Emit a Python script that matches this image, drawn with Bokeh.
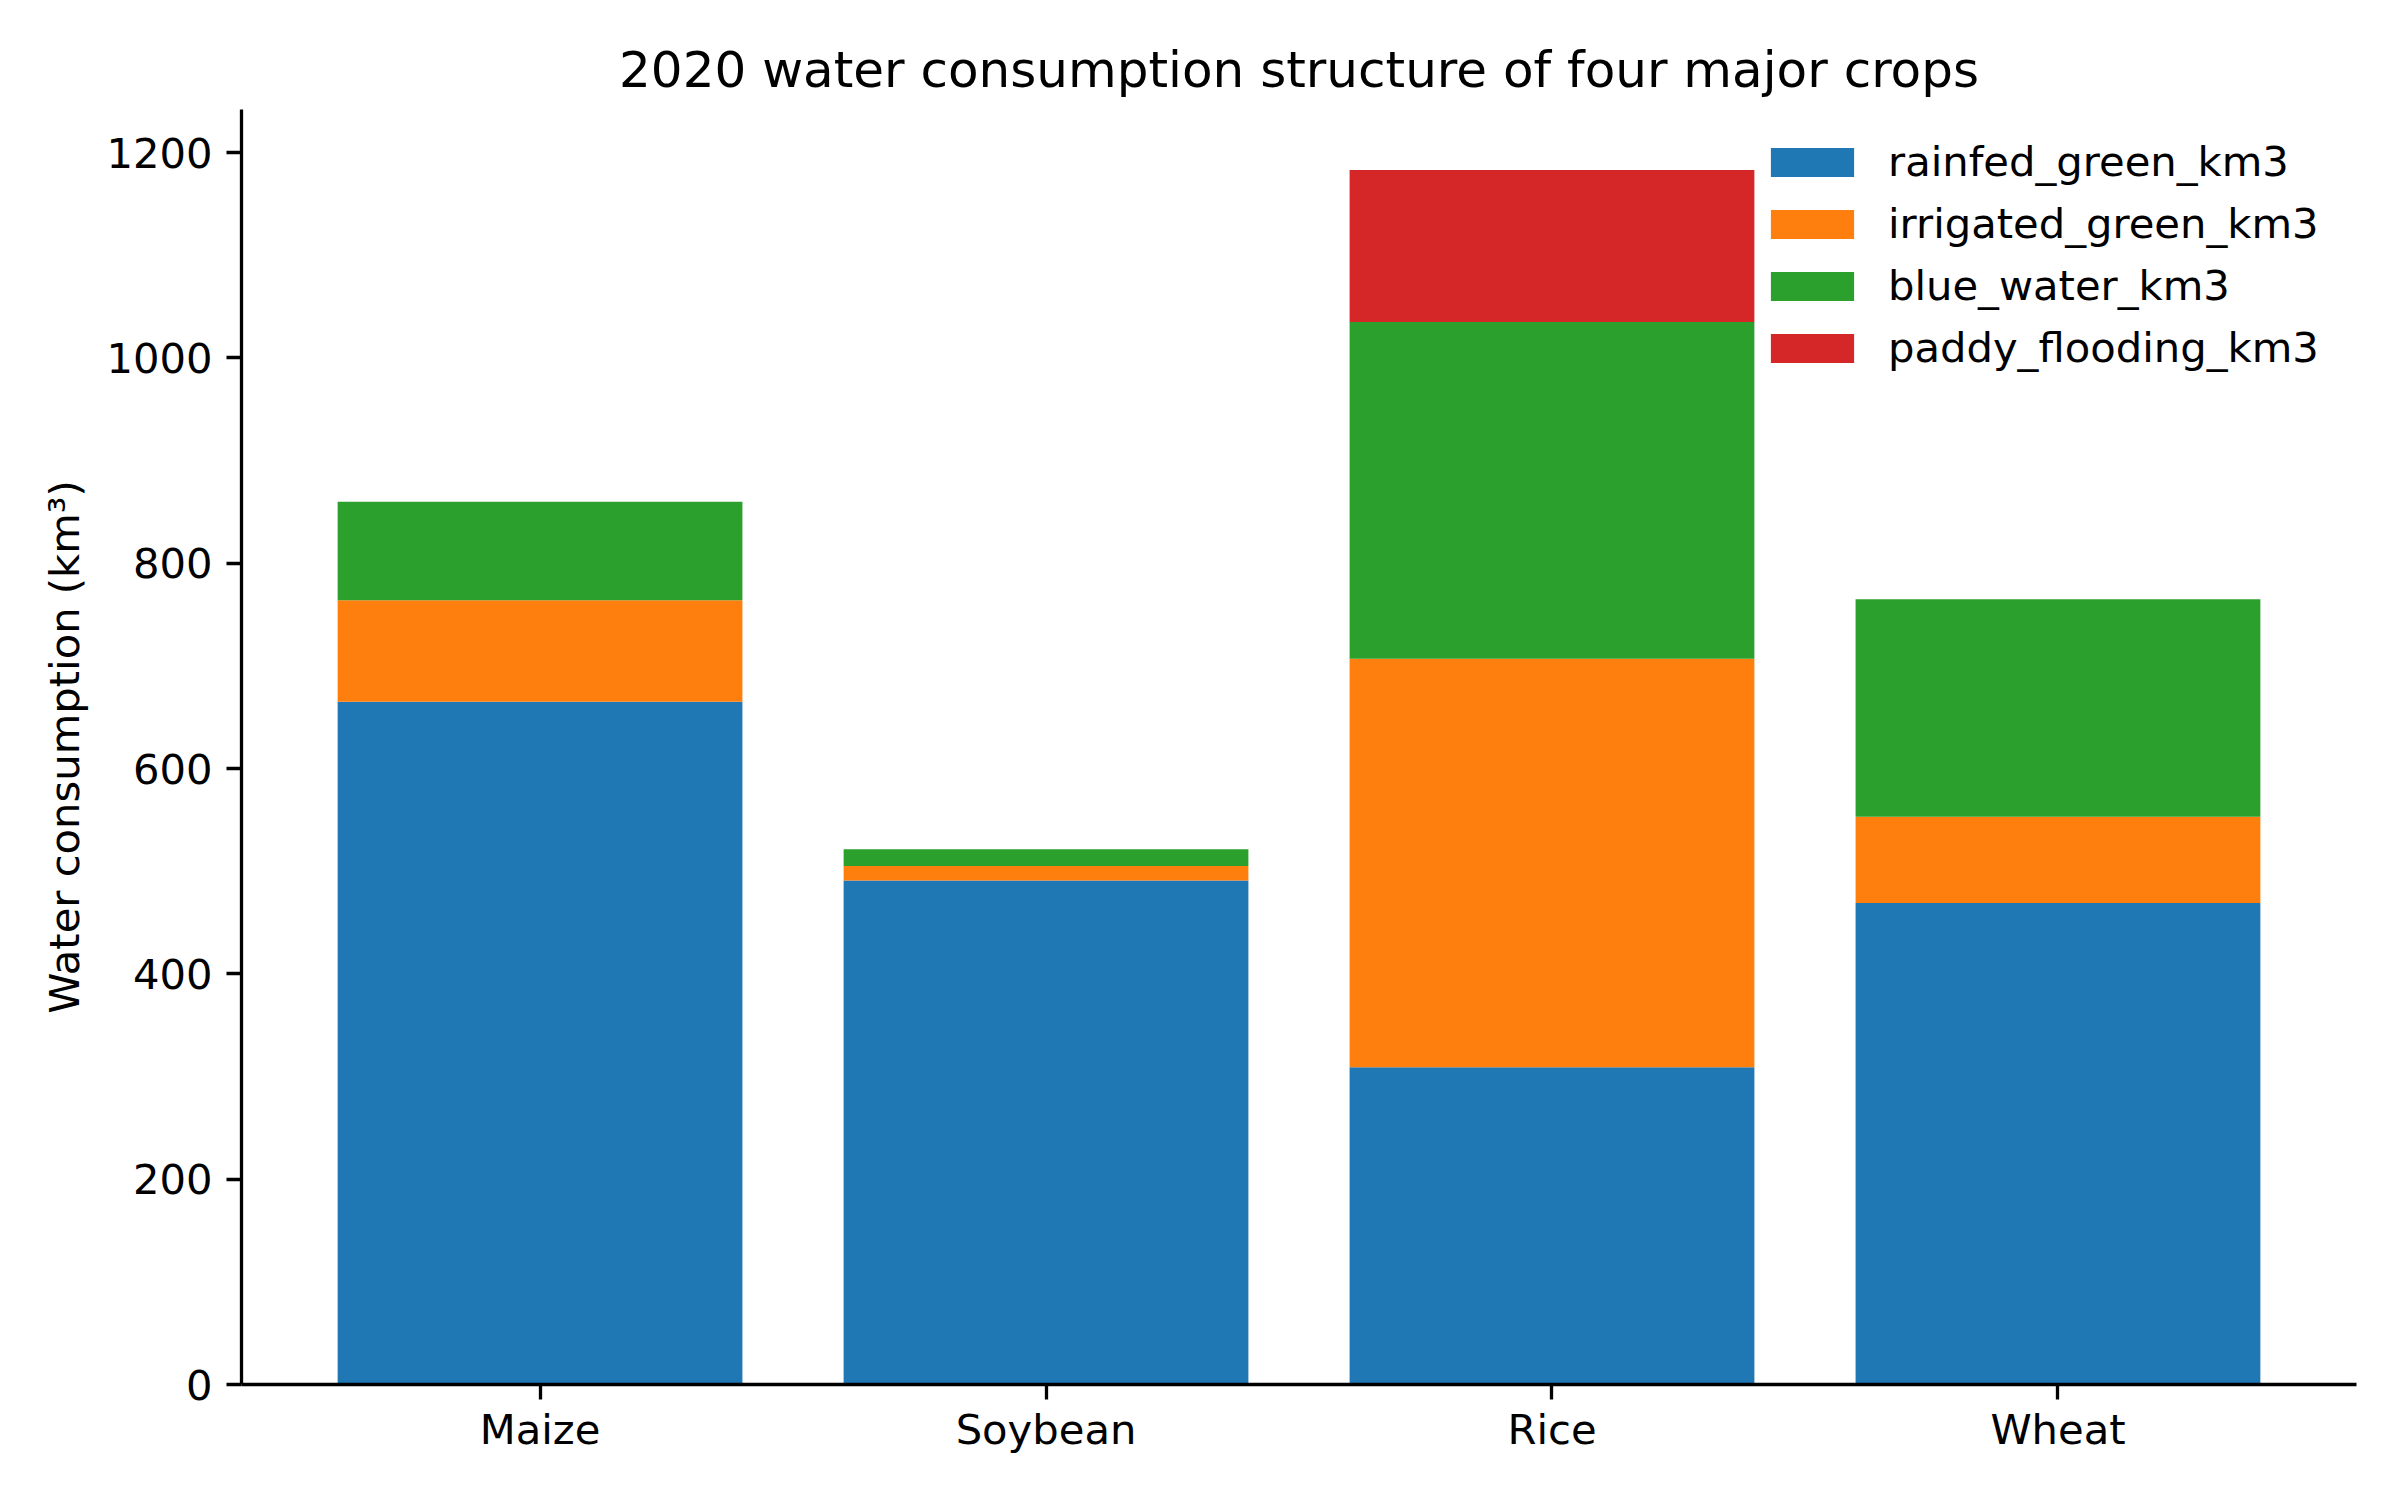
from bokeh.plotting import figure
from bokeh.models import ColumnDataSource, FixedTicker, Range1d, Legend
from bokeh.embed import file_html
from bokeh.resources import INLINE

# data (km3)
crops = ["Maize", "Soybean", "Rice", "Wheat"]
rainfed_green_km3 = [665, 491, 309, 469]
irrigated_green_km3 = [99, 14, 398, 84]
blue_water_km3 = [96, 16.5, 328, 212]
paddy_flooding_km3 = [0, 0, 148, 0]

components = ["rainfed_green_km3", "irrigated_green_km3", "blue_water_km3", "paddy_flooding_km3"]
colors = ["#1f77b4", "#ff7f0e", "#2ca02c", "#d62728"]
y_ticks = [0, 200, 400, 600, 800, 1000, 1200]

FONT = "DejaVu Sans"
TICK_SIZE = "41.7px"

positions = list(range(len(crops)))
source = ColumnDataSource(dict(
    x=positions,
    rainfed_green_km3=rainfed_green_km3,
    irrigated_green_km3=irrigated_green_km3,
    blue_water_km3=blue_water_km3,
    paddy_flooding_km3=paddy_flooding_km3,
))

p = figure(width=2384, height=1484, output_backend="svg", toolbar_location=None,
           x_range=Range1d(-0.59, 3.59), y_range=Range1d(0, 1242),
           title="2020 water consumption structure of four major crops")
p.min_border_left = 241
p.min_border_right = 28
p.min_border_top = 109
p.min_border_bottom = 100
p.outline_line_color = None
p.background_fill_color = "white"
p.border_fill_color = "white"

p.title.align = "center"
p.title.text_font = FONT
p.title.text_font_size = "50px"
p.title.text_font_style = "normal"
p.title.text_color = "black"
p.title.standoff = 22

bars = p.vbar_stack(components, x="x", width=0.8, source=source,
                    fill_color=colors, line_color=None)

# axes: only left and bottom spines, outward ticks
for ax in (p.xaxis, p.yaxis):
    ax.axis_line_width = 3.3
    ax.axis_line_color = "black"
    ax.major_tick_line_width = 3.3
    ax.major_tick_line_color = "black"
    ax.major_tick_out = 15
    ax.major_tick_in = 0
    ax.minor_tick_line_color = None
    ax.major_label_text_font = FONT
    ax.major_label_text_font_size = TICK_SIZE
    ax.major_label_text_color = "black"
    ax.major_label_standoff = 14

p.xaxis.major_label_standoff = 5
p.xaxis.ticker = FixedTicker(ticks=positions)
p.xaxis.major_label_overrides = {i: c for i, c in enumerate(crops)}
p.yaxis.ticker = FixedTicker(ticks=y_ticks)
p.yaxis.axis_label = "Water consumption (km³)"
p.yaxis.axis_label_text_font = FONT
p.yaxis.axis_label_text_font_size = TICK_SIZE
p.yaxis.axis_label_text_font_style = "normal"
p.yaxis.axis_label_text_color = "black"
p.yaxis.axis_label_standoff = 14
p.xgrid.grid_line_color = None
p.ygrid.grid_line_color = None

# legend glyphs are drawn inset by 10%, so the boxes are a bit larger
legend = Legend(items=[(name, [r]) for name, r in zip(components, bars)])
legend.location = (1519, 1012)
legend.border_line_color = None
legend.background_fill_alpha = 0
legend.glyph_width = 104
legend.glyph_height = 36
legend.label_standoff = 24
legend.label_height = 42
legend.spacing = 13
legend.padding = 10
legend.margin = 0
legend.label_text_font = FONT
legend.label_text_font_size = TICK_SIZE
legend.label_text_color = "black"
p.add_layout(legend)

open("out.html", "w").write(file_html(p, INLINE))
